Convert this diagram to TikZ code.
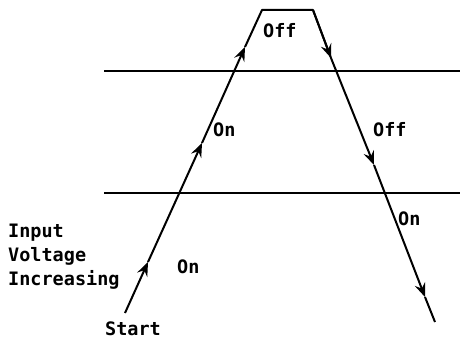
\documentclass[tikz,border=0pt]{standalone}
\usepackage{fontspec}
\setmonofont{DejaVu Sans Mono}
\usetikzlibrary{arrows.meta}
\tikzset{
  lbl/.style={font=\ttfamily\bfseries\fontsize{18.5}{24}\selectfont, inner sep=0pt, anchor=base west},
  trace/.style={line width=2pt, line join=round},
  fwd/.style={trace, -{Stealth[length=14pt, width=11pt, inset=5pt]}},
  level/.style={line width=1.6pt}
}

\begin{document}
\begin{tikzpicture}[x=1pt, y=-1pt]
  \useasboundingbox (0,0) rectangle (460,339);
  % threshold levels
  \foreach \name/\y in {hi/71,lo/193} {
    \coordinate (\name L) at (104,\y);
    \coordinate (\name R) at (460,\y);
    \draw[level] (\name L) -- (\name R);
  }
  % rising side
  \coordinate (start) at (125,313);
  \coordinate (up1) at (148,262);
  \coordinate (up2) at (202,143);
  \coordinate (up3) at (245,47);
  \coordinate (topL) at (262,10);
  % falling side
  \coordinate (topR) at (313,10);
  \coordinate (dn1) at (331,58);
  \coordinate (dn2) at (374,165);
  \coordinate (dn3) at (425,297);
  \coordinate (stop) at (435,322);
  \draw[fwd] (start) -- (up1);
  \draw[fwd] (up1) -- (up2);
  \draw[fwd] (up2) -- (up3);
  \draw[trace] (up3) -- (topL) -- (topR) -- (dn1);
  \draw[fwd] (topR) -- (dn1);
  \draw[fwd] (dn1) -- (dn2);
  \draw[fwd] (dn2) -- (dn3);
  \draw[trace] (dn3) -- (stop);
  % labels
  \node[lbl] (offTop) at (263,38) {Off};
  \node[lbl] (onMid) at (213,137) {On};
  \node[lbl] (onLow) at (177,273) {On};
  \node[lbl] (offRight) at (373,137) {Off};
  \node[lbl] (onRight) at (398,225) {On};
  \node[lbl] (startLbl) at (105,335) {Start};
  \node[lbl, anchor=north west, align=left] (inputLbl) at (8,224) {Input\\Voltage\\Increasing};
\end{tikzpicture}
\end{document}
